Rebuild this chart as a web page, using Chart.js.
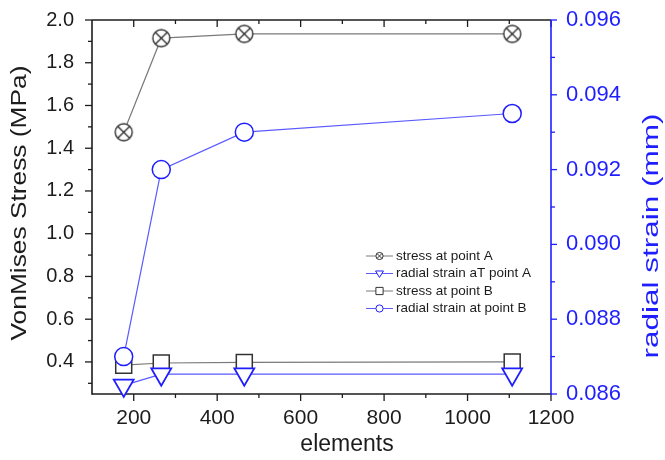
<!DOCTYPE html>
<html>
<head>
<meta charset="utf-8">
<script src="https://cdn.jsdelivr.net/npm/chart.js@4.4.0/dist/chart.umd.min.js"></script>
<style>
  html, body { margin: 0; padding: 0; background: #fff; }
  #wrap { width: 665px; height: 460px; }
</style>
</head>
<body>
<div id="wrap"><canvas id="c"></canvas></div>
<script>
// mesh sizes and the four measured series
const elements = [176, 266, 465, 1107];
const stressA  = [1.475, 1.915, 1.935, 1.935];         // MPa, left axis
const strainA  = [0.08623, 0.08653, 0.08653, 0.08653]; // mm, right axis
const stressB  = [0.385, 0.395, 0.398, 0.400];         // MPa, left axis
const strainB  = [0.0870, 0.0920, 0.0930, 0.0935];     // mm, right axis

// tick values
const xTicks     = [200, 400, 600, 800, 1000, 1200];
const xMinor     = [300, 500, 700, 900, 1100];
const leftTicks  = [0.4, 0.6, 0.8, 1.0, 1.2, 1.4, 1.6, 1.8, 2.0];
const leftMinor  = [0.3, 0.5, 0.7, 0.9, 1.1, 1.3, 1.5, 1.7, 1.9];
const rightTicks = [0.086, 0.088, 0.090, 0.092, 0.094, 0.096];
const rightMinor = [0.087, 0.089, 0.091, 0.093, 0.095];

const FONT = 'Arial, "Liberation Sans", Helvetica, sans-serif';
const INK = '#1c1c1c';
const GREY_LINE = '#7a7a7a';
const BLUE = '#1e1eff';
const BLUE_LINE = '#5a5aff';

// circle with an X inside, used for "stress at point A"
function crossCircle(r, lw, color) {
  const s = Math.ceil(2 * r + lw + 2);
  const cv = document.createElement('canvas');
  cv.width = cv.height = s;
  const g = cv.getContext('2d');
  const c = s / 2;
  g.strokeStyle = color;
  g.lineWidth = lw;
  g.fillStyle = '#fff';
  g.beginPath(); g.arc(c, c, r, 0, Math.PI * 2); g.fill(); g.stroke();
  const d = r * Math.SQRT1_2;
  g.beginPath();
  g.moveTo(c - d, c - d); g.lineTo(c + d, c + d);
  g.moveTo(c + d, c - d); g.lineTo(c - d, c + d);
  g.stroke();
  return cv;
}

const pts = ys => elements.map((x, i) => ({ x, y: ys[i] }));

const datasets = [
  {
    label: 'stress at point A', data: pts(stressA), yAxisID: 'y',
    borderColor: GREY_LINE, borderWidth: 1.2,
    pointStyle: crossCircle(8.5, 1.4, '#333'), pointRadius: 9,
    legendStyle: 'crossCircle', markColor: '#333'
  },
  {
    label: 'radial strain aT point A', data: pts(strainA), yAxisID: 'y1',
    borderColor: BLUE_LINE, borderWidth: 1.2,
    pointStyle: 'triangle', rotation: 180, pointRadius: 11.5,
    pointBorderColor: BLUE, pointBackgroundColor: '#fff', pointBorderWidth: 1.8,
    legendStyle: 'triangle', markColor: BLUE
  },
  {
    label: 'stress at point B', data: pts(stressB), yAxisID: 'y',
    borderColor: GREY_LINE, borderWidth: 1.2, order: 3,
    pointStyle: 'rect', pointRadius: 11.3,
    pointBorderColor: '#333', pointBackgroundColor: '#fff', pointBorderWidth: 1.5,
    legendStyle: 'rect', markColor: '#333'
  },
  {
    label: 'radial strain at point B', data: pts(strainB), yAxisID: 'y1',
    borderColor: BLUE_LINE, borderWidth: 1.2,
    pointStyle: 'circle', pointRadius: 9,
    pointBorderColor: BLUE, pointBackgroundColor: '#fff', pointBorderWidth: 1.5,
    legendStyle: 'circle', markColor: BLUE
  }
].map(d => Object.assign({ tension: 0, clip: false, showLine: true }, d));

// frame and tick marks: left/bottom/right point outwards, top points in
const axisDeco = {
  id: 'axisDeco',
  beforeDatasetsDraw(chart) {
    const { ctx, chartArea: a, scales } = chart;
    const seg = (x1, y1, x2, y2) => { ctx.beginPath(); ctx.moveTo(x1, y1); ctx.lineTo(x2, y2); ctx.stroke(); };
    ctx.save();
    ctx.lineWidth = 1.6;
    ctx.strokeStyle = INK;
    seg(a.left, a.top, a.right, a.top);
    seg(a.left, a.top, a.left, a.bottom + 0.8);
    seg(a.left, a.bottom, a.right, a.bottom);
    ctx.lineWidth = 1.3;
    xTicks.forEach(v => { const p = scales.x.getPixelForValue(v); seg(p, a.bottom, p, a.bottom + 7); seg(p, a.top, p, a.top + 7); });
    xMinor.forEach(v => { const p = scales.x.getPixelForValue(v); seg(p, a.bottom, p, a.bottom + 4); seg(p, a.top, p, a.top + 4); });
    leftTicks.forEach(v => { const p = scales.y.getPixelForValue(v); seg(a.left - 7, p, a.left, p); });
    leftMinor.forEach(v => { const p = scales.y.getPixelForValue(v); seg(a.left - 4, p, a.left, p); });
    ctx.strokeStyle = BLUE;
    ctx.lineWidth = 1.6;
    seg(a.right, a.top, a.right, a.bottom + 0.8);
    ctx.lineWidth = 1.3;
    rightTicks.forEach(v => { const p = scales.y1.getPixelForValue(v); seg(a.right, p, a.right + 6, p); });
    rightMinor.forEach(v => { const p = scales.y1.getPixelForValue(v); seg(a.right, p, a.right + 4, p); });
    ctx.restore();
  }
};

// axis titles, drawn by hand so the vertical ones read bottom-to-top and can be stretched
function drawTitle(ctx, text, cx, cy, size, color, rot, length) {
  ctx.save();
  ctx.font = size + 'px ' + FONT;
  ctx.fillStyle = color;
  ctx.textAlign = 'center';
  ctx.textBaseline = 'middle';
  ctx.translate(cx, cy);
  ctx.rotate(rot);
  if (length) ctx.scale(length / ctx.measureText(text).width, 1);
  ctx.fillText(text, 0, 0);
  ctx.restore();
}

const axisTitles = {
  id: 'axisTitles',
  afterDraw(chart) {
    const { ctx } = chart;
    drawTitle(ctx, 'VonMises Stress (MPa)', 20, 203, 22, INK, -Math.PI / 2, 275);
    drawTitle(ctx, 'radial strain (mm)', 652, 236, 22, BLUE, -Math.PI / 2, 245);
    drawTitle(ctx, 'elements', 347, 445, 23, INK, 0, 0);
  }
};

// small legend box inside the plot
const innerLegend = {
  id: 'innerLegend',
  afterDraw(chart) {
    const { ctx } = chart;
    const x0 = 366, x1 = 393, tx = 396, y0 = 256, rowH = 17.5;
    ctx.save();
    ctx.font = '13.5px ' + FONT;
    ctx.textBaseline = 'middle';
    chart.data.datasets.forEach((d, i) => {
      const y = y0 + i * rowH;
      const mx = (x0 + x1) / 2;
      ctx.strokeStyle = d.borderColor;
      ctx.lineWidth = 1;
      ctx.beginPath(); ctx.moveTo(x0, y); ctx.lineTo(x1, y); ctx.stroke();
      ctx.strokeStyle = d.markColor;
      ctx.fillStyle = '#fff';
      ctx.lineWidth = 1;
      const r = 3.6;
      ctx.beginPath();
      if (d.legendStyle === 'crossCircle' || d.legendStyle === 'circle') {
        ctx.arc(mx, y, r, 0, Math.PI * 2); ctx.fill(); ctx.stroke();
        if (d.legendStyle === 'crossCircle') {
          const k = r * Math.SQRT1_2;
          ctx.beginPath();
          ctx.moveTo(mx - k, y - k); ctx.lineTo(mx + k, y + k);
          ctx.moveTo(mx + k, y - k); ctx.lineTo(mx - k, y + k);
          ctx.stroke();
        }
      } else if (d.legendStyle === 'rect') {
        ctx.rect(mx - r, y - r, 2 * r, 2 * r); ctx.fill(); ctx.stroke();
      } else {
        ctx.moveTo(mx - r * 1.1, y - r * 0.7); ctx.lineTo(mx + r * 1.1, y - r * 0.7); ctx.lineTo(mx, y + r * 1.1);
        ctx.closePath(); ctx.fill(); ctx.stroke();
      }
      ctx.fillStyle = INK;
      ctx.fillText(d.label, tx, y);
    });
    ctx.restore();
  }
};

// keep the plot box fixed regardless of label overhang
const noPad = s => { s.paddingTop = 0; s.paddingBottom = 0; s.paddingLeft = 0; s.paddingRight = 0; };

new Chart(document.getElementById('c'), {
  type: 'line',
  data: { datasets },
  plugins: [axisDeco, axisTitles, innerLegend],
  options: {
    responsive: true,
    maintainAspectRatio: false,
    animation: false,
    layout: { padding: { top: 20, left: 0, right: 0, bottom: 0 } },
    plugins: { legend: { display: false }, tooltip: { enabled: false } },
    scales: {
      x: {
        type: 'linear', min: 100, max: 1200,
        grid: { display: false }, border: { display: false },
        afterBuildTicks: s => { s.ticks = xTicks.map(v => ({ value: v })); },
        ticks: { color: INK, font: { family: FONT, size: 21 }, padding: 4, maxRotation: 0, callback: v => String(v) },
        afterFit: s => { noPad(s); s.height = 66; }
      },
      y: {
        position: 'left', min: 0.25, max: 2.0,
        grid: { display: false }, border: { display: false },
        afterBuildTicks: s => { s.ticks = leftTicks.map(v => ({ value: v })); },
        ticks: { color: INK, font: { family: FONT, size: 20 }, padding: 10, callback: v => v.toFixed(1) },
        afterFit: s => { noPad(s); s.width = 92; }
      },
      y1: {
        position: 'right', min: 0.086, max: 0.096,
        grid: { display: false }, border: { display: false },
        afterBuildTicks: s => { s.ticks = rightTicks.map(v => ({ value: v })); },
        ticks: { color: BLUE, font: { family: FONT, size: 22 }, padding: 7, callback: v => v.toFixed(3) },
        afterFit: s => { noPad(s); s.width = 114; }
      }
    }
  }
});
</script>
</body>
</html>
